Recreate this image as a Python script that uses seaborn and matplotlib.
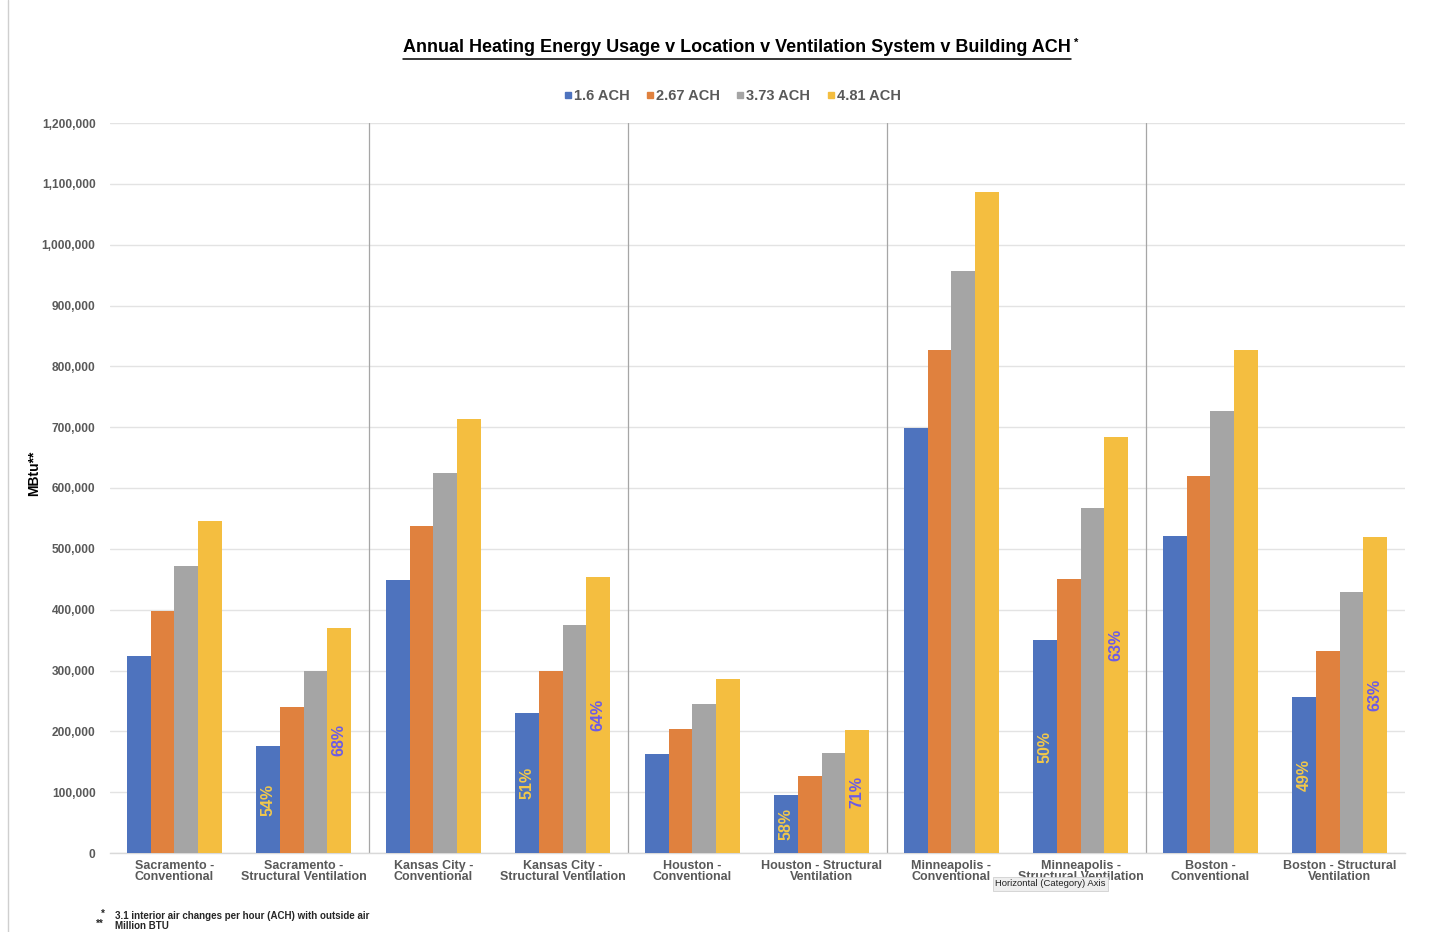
import matplotlib
matplotlib.use("Agg")
import matplotlib.pyplot as plt
from matplotlib.lines import Line2D
import seaborn as sns
import pandas as pd
import numpy as np

# Locations / ventilation systems (x categories)
categories = [
    "Sacramento -\nConventional",
    "Sacramento -\nStructural Ventilation",
    "Kansas City -\nConventional",
    "Kansas City -\nStructural Ventilation",
    "Houston -\nConventional",
    "Houston - Structural\nVentilation",
    "Minneapolis -\nConventional",
    "Minneapolis -\nStructural Ventilation",
    "Boston -\nConventional",
    "Boston - Structural\nVentilation",
]

# Building air-change rates (series)
series_names = ["1.6 ACH", "2.67 ACH", "3.73 ACH", "4.81 ACH"]

# Annual heating energy, MBtu
ach_1_6 = [324000, 176000, 449000, 230000, 163000, 95000, 699000, 350000, 521000, 256000]
ach_2_67 = [398000, 240000, 538000, 299000, 204000, 127000, 827000, 450000, 620000, 332000]
ach_3_73 = [472000, 299000, 625000, 375000, 245000, 164000, 957000, 567000, 727000, 429000]
ach_4_81 = [546000, 370000, 713000, 454000, 286000, 202000, 1087000, 684000, 827000, 520000]

yticks = list(range(0, 1200001, 100000))

colors = ["#4E73BE", "#E0813E", "#A5A5A5", "#F4BE40"]
tick_color = "#595959"

values = [ach_1_6, ach_2_67, ach_3_73, ach_4_81]
rows = []
for name, vals in zip(series_names, values):
    for cat, v in zip(categories, vals):
        rows.append({"location": cat, "ach": name, "mbtu": v})
df = pd.DataFrame(rows)

sns.set_theme(style="white")
plt.rcParams["font.family"] = ["Liberation Sans", "DejaVu Sans"]

fig = plt.figure(figsize=(14.47, 9.32), dpi=100)
ax = fig.add_axes([109.5 / 1447, 1 - 853 / 932, 1295 / 1447, 730 / 932])

sns.barplot(
    data=df, x="location", y="mbtu", hue="ach",
    order=categories, hue_order=series_names,
    palette=colors, saturation=1, width=0.73, gap=0,
    linewidth=0, edgecolor="none",
    legend=False, ax=ax, zorder=3,
)

ax.set_ylim(0, 1200000)
ax.set_xlim(-0.5, len(categories) - 0.5)
ax.set_yticks(yticks)
ax.set_yticklabels([f"{t:,}" for t in yticks], fontsize=8.6, fontweight="bold",
                   color=tick_color)
ax.tick_params(axis="y", length=0, pad=10)
ax.tick_params(axis="x", length=0, pad=5)
ax.set_xticks(range(len(categories)))
ax.set_xticklabels(categories, fontsize=9, fontweight="bold", color=tick_color,
                   linespacing=0.95)
ax.set_xlabel("")
ax.set_ylabel("MBtu**", fontsize=10, fontweight="bold", color="black", labelpad=0)
ax.yaxis.set_label_coords(-0.053, 0.52)

ax.grid(axis="y", color="#E3E3E3", linewidth=1, zorder=0)
for side in ["top", "right", "left"]:
    ax.spines[side].set_visible(False)
ax.spines["bottom"].set_color("#D9D9D9")
ax.spines["bottom"].set_linewidth(1)

# Separators between locations
for xpos in [1.5, 3.5, 5.5, 7.5]:
    ax.axvline(xpos, color="#A6A6A6", linewidth=0.9, zorder=1)

# Ratio labels: structural ventilation vs conventional for the same location
n_cat = len(categories)
blue_bars = ax.patches[0:n_cat]
yellow_bars = ax.patches[3 * n_cat:4 * n_cat]
for i in range(1, n_cat, 2):
    low = ach_1_6[i] / ach_1_6[i - 1]
    high = ach_4_81[i] / ach_4_81[i - 1]
    b = blue_bars[i]
    ax.text(b.get_x() + b.get_width() / 2, b.get_height() / 2, f"{low:.0%}",
            rotation=90, ha="center", va="center", fontsize=11.5,
            fontweight="bold", color="#F2C84B", zorder=5)
    yb = yellow_bars[i]
    ax.text(yb.get_x() + yb.get_width() / 2, yb.get_height() / 2, f"{high:.0%}",
            rotation=90, ha="center", va="center", fontsize=11.5,
            fontweight="bold", color="#6B5BE6", zorder=5)

# Title (underlined) with superscript marker
title = fig.text(737 / 1447, 1 - 48 / 932,
                 "Annual Heating Energy Usage v Location v Ventilation System v Building ACH",
                 ha="center", va="center", fontsize=13, fontweight="bold", color="black")
fig.canvas.draw()
bb = title.get_window_extent()
fig.add_artist(Line2D([bb.x0 / 1447, bb.x1 / 1447],
                      [(bb.y0 - 2) / 932, (bb.y0 - 2) / 932],
                      color="black", linewidth=1.1, transform=fig.transFigure))
fig.text((bb.x1 + 3) / 1447, (bb.y1 - 3) / 932, "*", ha="left", va="center",
         fontsize=8, fontweight="bold", color="black")

# Legend
handles = [Line2D([0], [0], marker="s", linestyle="", markersize=5,
                  markerfacecolor=c, markeredgecolor=c) for c in colors]
fig.legend(handles, series_names, loc="center", bbox_to_anchor=(730 / 1447, 1 - 96 / 932),
           ncol=4, frameon=False, handletextpad=-0.2, columnspacing=0.8,
           handlelength=1.2, prop={"weight": "bold", "size": 10.5}, labelcolor=tick_color)

# Footnotes
fig.text(101 / 1447, 1 - 914 / 932, "*", fontsize=7, fontweight="bold", va="center")
fig.text(115 / 1447, 1 - 916 / 932, "3.1 interior air changes per hour (ACH) with outside air",
         fontsize=7, fontweight="bold", va="center")
fig.text(96 / 1447, 1 - 924 / 932, "**", fontsize=7, fontweight="bold", va="center")
fig.text(115 / 1447, 1 - 926 / 932, "Million BTU", fontsize=7, fontweight="bold", va="center")

# Axis hover tag
fig.text(995 / 1447, 1 - 884 / 932, "Horizontal (Category) Axis", fontsize=6.8,
         color="#222222", va="center", ha="left", zorder=10,
         bbox=dict(boxstyle="square,pad=0.25", facecolor="#EEEEEE", edgecolor="#D0D0D0",
                   linewidth=0.6))

# Page edge on the left
fig.add_artist(Line2D([8 / 1447, 8 / 1447], [0, 1], color="#CFCFCF", linewidth=1,
                      transform=fig.transFigure))

fig.savefig("out.png", dpi=100, facecolor="white")
